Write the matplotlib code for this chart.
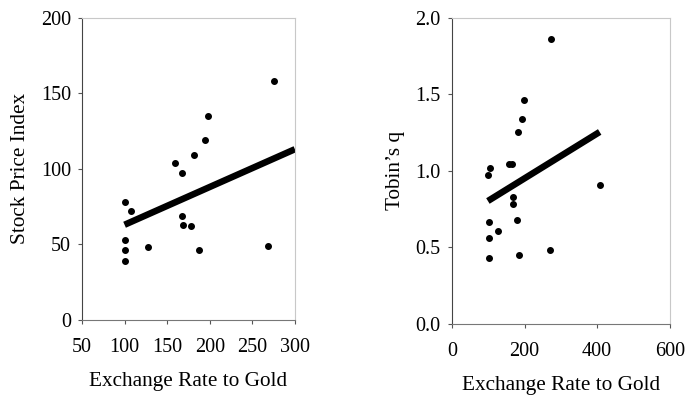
import matplotlib
matplotlib.use("Agg")
import matplotlib.pyplot as plt

plt.rcParams['font.family'] = ['Liberation Serif', 'DejaVu Serif']

# left panel: exchange rate vs stock price index
stock_x = [100, 108, 100, 100, 100, 128, 159, 167, 168, 169, 178, 182, 195, 198, 187, 269, 275]
stock_y = [78, 72, 53, 46, 39, 48.5, 104, 97, 69, 63, 62.5, 109, 119, 135, 46, 49, 158]
stock_fit_x = [100, 300]
stock_fit_y = [63, 113]

# right panel: exchange rate vs Tobin's q
q_x = [99, 106, 101, 101, 101, 126, 158, 165, 168, 168, 178, 181, 194, 198, 186, 269, 273, 407]
q_y = [0.973, 1.021, 0.667, 0.563, 0.428, 0.604, 1.047, 1.045, 0.829, 0.785, 0.676, 1.254,
       1.339, 1.464, 0.452, 0.48, 1.863, 0.91]
q_fit_x = [99, 407]
q_fit_y = [0.803, 1.254]

fig = plt.figure(figsize=(6.89, 3.95), dpi=100)
ax1 = fig.add_axes([0.119, 0.190, 0.309, 0.765])
ax2 = fig.add_axes([0.656, 0.180, 0.316, 0.775])


def style(ax):
    ax.spines['left'].set_color('#444444')
    ax.spines['bottom'].set_color('#777777')
    for s in ['top', 'right']:
        ax.spines[s].set_color('#c8c8c8')
        ax.spines[s].set_linewidth(0.8)
    ax.tick_params(direction='out', length=3, width=0.8, colors='#555555',
                   labelcolor='black', labelsize=14.5, pad=5)
    ax.tick_params(axis='x', pad=10)


ax1.scatter(stock_x, stock_y, s=16, color='black', zorder=3)
ax1.plot(stock_fit_x, stock_fit_y, color='black', lw=4.7, solid_capstyle='butt', zorder=2)
ax1.set_xlim(50, 300)
ax1.set_ylim(0, 200)
ax1.set_xticks([50, 100, 150, 200, 250, 300])
ax1.set_yticks([0, 50, 100, 150, 200])
ax1.set_xlabel('Exchange Rate to Gold', fontsize=15.3, labelpad=11)
ax1.set_ylabel('Stock Price Index', fontsize=15.3, labelpad=8)
style(ax1)

ax2.scatter(q_x, q_y, s=16, color='black', zorder=3)
ax2.plot(q_fit_x, q_fit_y, color='black', lw=4.7, solid_capstyle='butt', zorder=2)
ax2.set_xlim(0, 600)
ax2.set_ylim(0, 2.0)
ax2.set_xticks([0, 200, 400, 600])
ax2.set_yticks([0.0, 0.5, 1.0, 1.5, 2.0])
ax2.set_yticklabels(['0.0', '0.5', '1.0', '1.5', '2.0'])
ax2.set_xlabel('Exchange Rate to Gold', fontsize=15.3, labelpad=11)
ax2.set_ylabel('Tobin\u2019s q', fontsize=15.3, labelpad=8)
style(ax2)

fig.savefig('out.png', dpi=100)
